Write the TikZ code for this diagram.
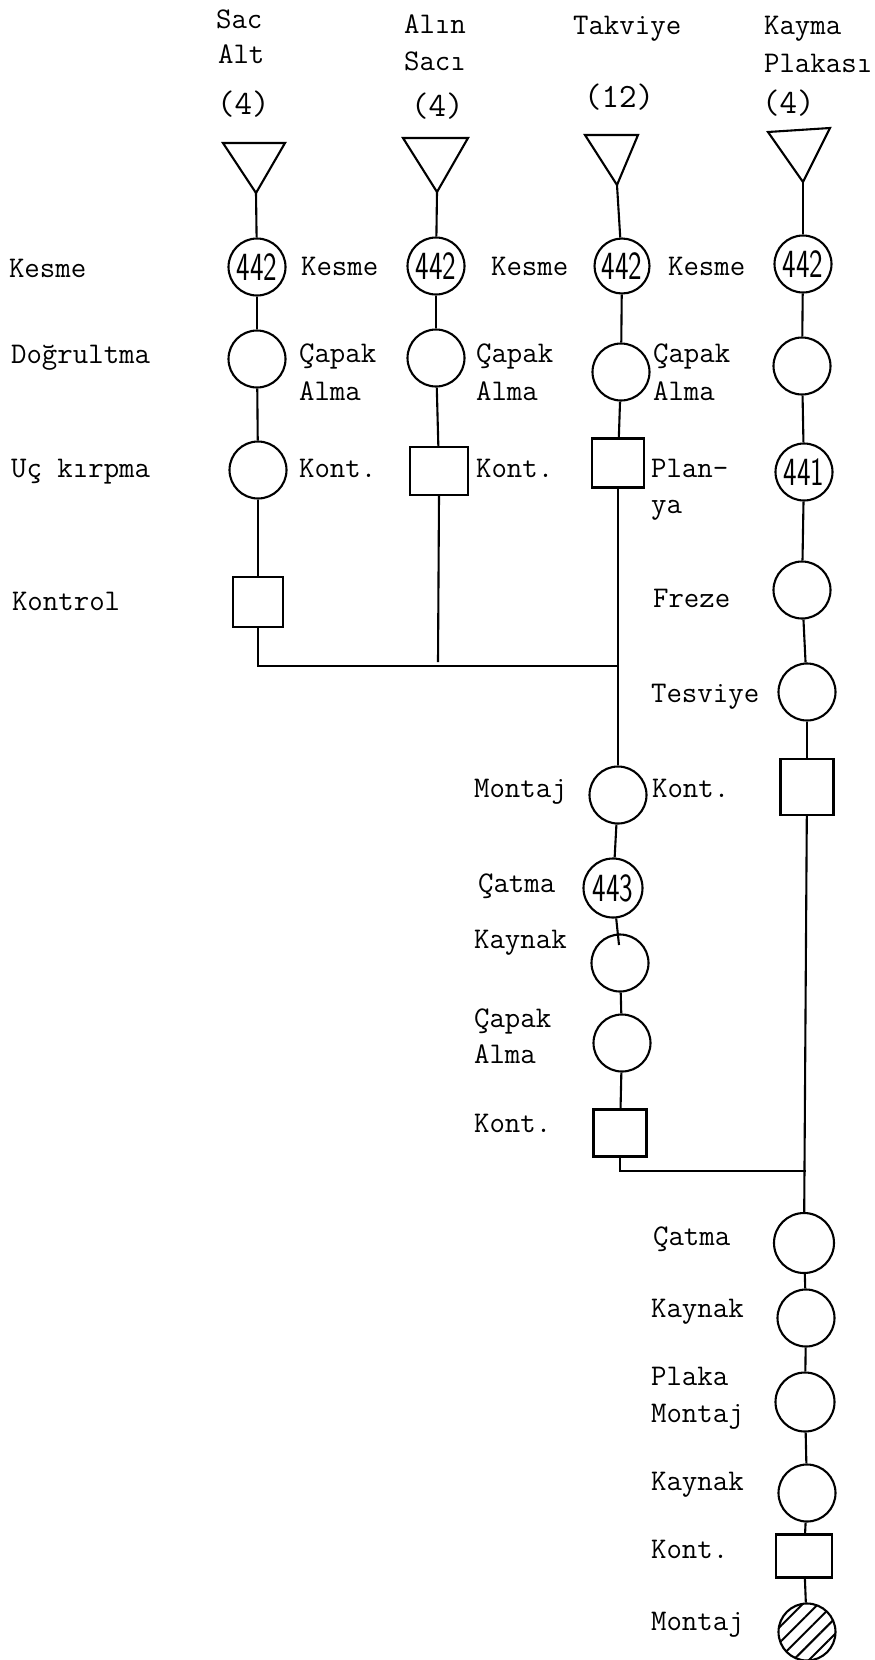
\documentclass[tikz,border=0pt]{standalone}
\usepackage{fontspec}
\usepackage{graphicx}
\usetikzlibrary{patterns.meta}
\newcommand{\numtxt}[1]{\scalebox{0.72}[1]{\fontsize{40}{40}\selectfont\sffamily #1}}
\begin{document}
\begin{tikzpicture}[x=1pt,y=-1pt,line width=2.1pt,
  lbl/.style={anchor=base west,inner sep=0,font=\fontsize{30}{30}\selectfont\ttfamily},
  qty/.style={anchor=base west,inner sep=0,font=\fontsize{34}{34}\selectfont\ttfamily},
  opc/.style={draw,circle,minimum size=57pt,inner sep=0},
  ctl/.style={draw,rectangle,minimum width=52pt,minimum height=48pt,inner sep=0},
  asm/.style={draw,circle,minimum size=57pt,inner sep=0,pattern={Lines[angle=45,distance=11pt,line width=2pt]}}]
\useasboundingbox (0,0) rectangle (875,1660);

% ---------- top labels ----------
\node[lbl] (h1a) at (215,28) {Sac};
\node[lbl] (h1b) at (217,63) {Alt};
\node[qty] (h1c) at (216,114) {(4)};
\node[lbl] (h2a) at (403,33) {Alın};
\node[lbl] (h2b) at (403,70) {Sacı};
\node[qty] (h2c) at (410,116) {(4)};
\node[lbl] (h3a) at (572,34) {Takviye};
\node[qty] (h3c) at (583,107) {(12)};
\node[lbl] (h4a) at (763,34) {Kayma};
\node[lbl] (h4b) at (763,72) {Plakası};
\node[qty] (h4c) at (761,113) {(4)};

% ---------- triangles (storage) ----------
\coordinate (t1) at (256,193);
\coordinate (t2) at (437,192);
\coordinate (t3) at (617,185);
\coordinate (t4) at (803,182);
\draw (223,143) -- (285,143) -- (t1) -- cycle;
\draw (403,138) -- (468,138) -- (t2) -- cycle;
\draw (585,135) -- (638,135) -- (t3) -- cycle;
\draw (768,132) -- (830,128) -- (t4) -- cycle;

% ---------- column 1 ----------
\node[opc] (n1a) at (257,267) {\numtxt{442}};
\node[opc] (n1b) at (257,359) {};
\node[opc] (n1c) at (258,470) {};
\node[ctl,minimum width=50pt,minimum height=50pt] (n1d) at (258,602) {};

% ---------- column 2 ----------
\node[opc] (n2a) at (436,266) {\numtxt{442}};
\node[opc] (n2b) at (436,358) {};
\node[ctl,minimum width=58pt,minimum height=48pt] (n2c) at (439,471) {};

% ---------- column 3 ----------
\node[opc,minimum size=55pt] (n3a) at (622,266) {\numtxt{442}};
\node[opc] (n3b) at (621,372) {};
\node[ctl,minimum width=52pt,minimum height=49pt] (n3c) at (618,463) {};
\node[opc] (n3d) at (618,795) {};
\node[opc,minimum size=59pt] (n3e) at (613,888) {\numtxt{443}};
\node[opc] (n3f) at (620,963) {};
\node[opc] (n3g) at (622,1043) {};
\node[ctl,minimum width=53pt,minimum height=47pt] (n3h) at (620,1133) {};

% ---------- column 4 ----------
\node[opc] (n4a) at (803,264) {\numtxt{442}};
\node[opc] (n4b) at (802,366) {};
\node[opc] (n4c) at (804,472) {\numtxt{441}};
\node[opc] (n4d) at (802,590) {};
\node[opc] (n4e) at (807,692) {};
\node[ctl,minimum width=53pt,minimum height=56pt] (n4f) at (807,787) {};
\node[opc,minimum size=60pt] (n4g) at (804,1243) {};
\node[opc] (n4h) at (806,1318) {};
\node[opc,minimum size=59pt] (n4i) at (805,1402) {};
\node[opc] (n4j) at (807,1493) {};
\node[ctl,minimum width=56pt,minimum height=43pt] (n4k) at (804,1556) {};
\node[asm] (n4l) at (807,1632) {};

% ---------- connectors ----------
\draw (t1) -- (n1a); \draw (n1a) -- (n1b); \draw (n1b) -- (n1c); \draw (n1c) -- (n1d);
\draw (t2) -- (n2a); \draw (n2a) -- (n2b); \draw (n2b) -- (n2c);
\draw (t3) -- (n3a); \draw (n3a) -- (n3b); \draw (n3b) -- (n3c);
\draw (n3c) -- (n3d); \draw (n3d) -- (n3e); \draw (n3f) -- (n3g); \draw (n3g) -- (n3h);
\coordinate (p3) at (619,945);
\draw (n3e) -- (p3);
\draw (t4) -- (n4a); \draw (n4a) -- (n4b); \draw (n4b) -- (n4c); \draw (n4c) -- (n4d);
\draw (n4d) -- (n4e); \draw (n4e) -- (n4f); \draw (n4f) -- (n4g); \draw (n4g) -- (n4h);
\draw (n4h) -- (n4i); \draw (n4i) -- (n4j); \draw (n4j) -- (n4k); \draw (n4k) -- (n4l);
\coordinate (j1) at (618,666);
\coordinate (e2) at (438,662);
\coordinate (j2) at (806,1171);
\draw (n1d.south) |- (j1);
\draw (n2c.south) -- (e2);
\draw (n3h.south) |- (j2);

% ---------- operation labels ----------
\node[lbl] (l1) at (8,277) {Kesme};
\node[lbl] (l2) at (10,363) {Doğrultma};
\node[lbl] (l3) at (10,477) {Uç kırpma};
\node[lbl] (l4) at (11,610) {Kontrol};

\node[lbl] (a1) at (300,275) {Kesme};
\node[lbl] (a2) at (298,362) {Çapak};
\node[lbl] (a3) at (298,400) {Alma};
\node[lbl] (a4) at (298,477) {Kont.};

\node[lbl] (b1) at (490,275) {Kesme};
\node[lbl] (b2) at (475,362) {Çapak};
\node[lbl] (b3) at (475,400) {Alma};
\node[lbl] (b4) at (475,477) {Kont.};

\node[lbl] (c1) at (667,275) {Kesme};
\node[lbl] (c2) at (652,362) {Çapak};
\node[lbl] (c3) at (652,400) {Alma};
\node[lbl] (c4) at (650,477) {Plan-};
\node[lbl] (c5) at (650,513) {ya};
\node[lbl] (c6) at (652,607) {Freze};
\node[lbl] (c7) at (650,702) {Tesviye};
\node[lbl] (c8) at (651,797) {Kont.};

\node[lbl] (d1) at (473,797) {Montaj};
\node[lbl] (d2) at (477,892) {Çatma};
\node[lbl] (d3) at (473,948) {Kaynak};
\node[lbl] (d4) at (473,1027) {Çapak};
\node[lbl] (d5) at (473,1063) {Alma};
\node[lbl] (d6) at (473,1132) {Kont.};

\node[lbl] (e1) at (652,1245) {Çatma};
\node[lbl] (e3) at (650,1317) {Kaynak};
\node[lbl] (e4) at (650,1385) {Plaka};
\node[lbl] (e5) at (650,1422) {Montaj};
\node[lbl] (e6) at (650,1490) {Kaynak};
\node[lbl] (e7) at (650,1558) {Kont.};
\node[lbl] (e8) at (650,1630) {Montaj};
\end{tikzpicture}
\end{document}
